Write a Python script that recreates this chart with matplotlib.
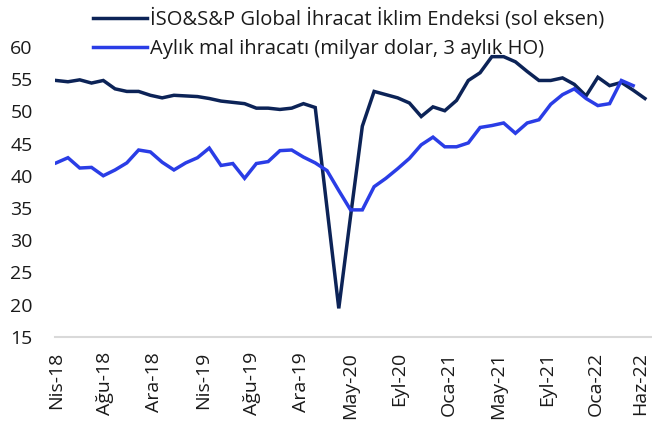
import numpy as np
import matplotlib
matplotlib.use("Agg")
import matplotlib.pyplot as plt
from matplotlib.transforms import ScaledTranslation

# ------------------------------------------------------------------------------
# DATA (monthly, Nis-18 .. Haz-22)
# ------------------------------------------------------------------------------
iso_index = [54.8, 54.6, 54.9, 54.4, 54.8, 53.5, 53.1, 53.1, 52.5, 52.1,
             52.5, 52.4, 52.3, 52.0, 51.6, 51.4, 51.2, 50.5, 50.5, 50.3,
             50.5, 51.2, 50.6, 35.0, 19.4, 33.7, 47.7, 53.1, 52.6, 52.1,
             51.3, 49.2, 50.7, 50.1, 51.7, 54.8, 56.0, 58.5, 58.5, 57.7,
             56.2, 54.8, 54.8, 55.2, 54.2, 52.4, 55.3, 54.0, 54.5, 53.3,
             52.0]

exports = [42.0, 42.8, 41.2, 41.3, 40.0, 40.9, 42.0, 44.0, 43.7, 42.1,
           40.9, 42.0, 42.8, 44.3, 41.6, 41.9, 39.6, 41.9, 42.2, 43.9,
           44.0, 42.9, 42.0, 40.8, 37.7, 34.7, 34.7, 38.3, 39.6, 41.1,
           42.7, 44.8, 46.0, 44.5, 44.5, 45.1, 47.5, 47.8, 48.2, 46.6,
           48.2, 48.7, 51.1, 52.6, 53.5, 52.0, 50.9, 51.2, 54.8, 54.0]

tick_labels = ["Nis-18", "Ağu-18", "Ara-18", "Nis-19", "Ağu-19", "Ara-19",
               "May-20", "Eyl-20", "Oca-21", "May-21", "Eyl-21", "Oca-22",
               "Haz-22"]

label_iso = "İSO&S&P Global İhracat İklim Endeksi (sol eksen)"
label_exp = "Aylık mal ihracatı (milyar dolar, 3 aylık HO)"

navy = "#0c2357"
blue = "#2a3de6"

plt.rcParams['font.family'] = ['Open Sans', 'DejaVu Sans']

# ------------------------------------------------------------------------------
# FIGURE
# ------------------------------------------------------------------------------
fig = plt.figure(figsize=(6.52, 4.24), dpi=100)
ax = fig.add_axes([55 / 652, (424 - 336.7) / 424, 597 / 652, (336.7 - 47) / 424])

ax.plot(np.arange(len(iso_index)), iso_index, color=navy, lw=2.5,
        solid_joinstyle="miter", label=label_iso)
ax.plot(np.arange(len(exports)), exports, color=blue, lw=2.5,
        solid_joinstyle="miter", label=label_exp)

ax.set_xlim(-0.1, 50.6)
ax.set_ylim(15, 60)
ax.set_yticks(np.arange(15, 61, 5))
ax.set_xticks(np.linspace(0, len(iso_index) - 1, len(tick_labels)))
ax.set_xticklabels(tick_labels, rotation=90)

for s in ["top", "right", "left"]:
    ax.spines[s].set_visible(False)
ax.spines["bottom"].set_color("#d9d9d9")
ax.spines["bottom"].set_linewidth(1.5)
ax.tick_params(axis="both", length=0, labelsize=14, colors="#1a1a1a")
ax.tick_params(axis="y", pad=16)
ax.tick_params(axis="x", pad=11)

# last label sits at the right edge; nudge it inside the canvas
last = ax.get_xticklabels()[-1]
last.set_transform(last.get_transform() + ScaledTranslation(-5 / 100, 0, fig.dpi_scale_trans))

leg = fig.legend(loc="center left", bbox_to_anchor=(93 / 652, 1 - 33.5 / 424),
                 frameon=False, fontsize=14.5, handlelength=2.7,
                 handletextpad=0.12, labelspacing=0.45, borderaxespad=0,
                 borderpad=0)
for t in leg.get_texts():
    t.set_color("#1a1a1a")

fig.savefig("out.png", dpi=100)
